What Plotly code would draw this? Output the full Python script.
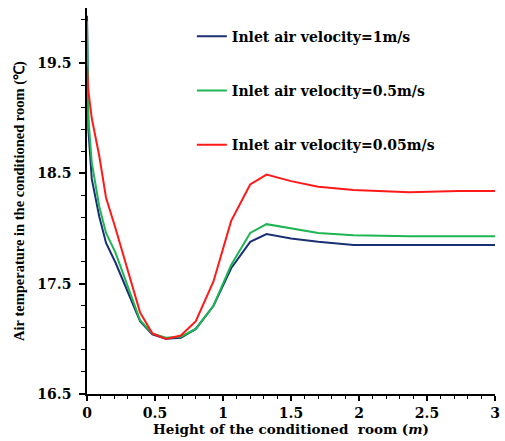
import plotly.graph_objects as go

height_m = [0, 0.01, 0.035, 0.09, 0.14, 0.21, 0.39, 0.48, 0.58, 0.69, 0.80, 0.93,
            1.06, 1.20, 1.32, 1.50, 1.70, 1.96, 2.37, 2.73, 3.0]
temp_v1 = [19.93, 18.90, 18.45, 18.11, 17.87, 17.69, 17.16, 17.04, 17.00, 17.01, 17.09, 17.30,
           17.64, 17.88, 17.95, 17.91, 17.88, 17.85, 17.85, 17.85, 17.85]
temp_v05 = [19.88, 19.00, 18.60, 18.20, 17.96, 17.78, 17.17, 17.05, 17.01, 17.02, 17.09, 17.30,
            17.67, 17.96, 18.04, 18.00, 17.96, 17.94, 17.93, 17.93, 17.93]
temp_v005 = [19.47, 19.25, 19.00, 18.66, 18.28, 18.00, 17.24, 17.05, 17.00, 17.03, 17.16, 17.52,
             18.07, 18.40, 18.49, 18.43, 18.38, 18.35, 18.33, 18.34, 18.34]

series_names = ["Inlet air velocity=1m/s", "Inlet air velocity=0.5m/s", "Inlet air velocity=0.05m/s"]
series_values = [temp_v1, temp_v05, temp_v005]
series_colors = ["#1b2f73", "#1eb553", "#ff1a1a"]

WIDE = "DejaVu Serif"
TIMES = "Liberation Serif"

fig = go.Figure()
for i, (name, vals, col) in enumerate(zip(series_names, series_values, series_colors)):
    fig.add_trace(go.Scatter(
        x=height_m, y=vals, mode="lines", name=name, legendgroup=f"g{i}",
        line=dict(color=col, width=2),
    ))

fig.update_layout(
    width=505, height=441,
    margin=dict(l=87, r=5, t=8, b=47),
    paper_bgcolor="white", plot_bgcolor="white",
    font=dict(family=WIDE, color="black", size=13, weight="bold"),
    showlegend=True,
    legend=dict(
        x=0.257, y=0.967, xanchor="left", yanchor="top",
        bgcolor="rgba(0,0,0,0)", borderwidth=0,
        font=dict(family=WIDE, size=14, weight="bold"),
        tracegroupgap=33, itemwidth=30,
    ),
    xaxis=dict(
        range=[0, 3], showgrid=False, zeroline=False,
        showline=True, linecolor="black", linewidth=1.5,
        ticks="outside", ticklen=5, tickwidth=1.5, tickcolor="black",
        tick0=0, dtick=0.5,
        minor=dict(ticks="outside", dtick=0.1, tick0=0, ticklen=3, tickcolor="black", tickwidth=1),
        tickfont=dict(family=WIDE, size=14, weight="bold"),
        title=dict(text="Height of the conditioned  room (<i>m</i>)",
                   font=dict(family=WIDE, size=13.5, weight="bold"), standoff=0),
    ),
    yaxis=dict(
        range=[16.5, 20.0], showgrid=False, zeroline=False,
        showline=True, linecolor="black", linewidth=1.5,
        ticks="outside", ticklen=6, tickwidth=1.5, tickcolor="black",
        tick0=16.5, dtick=1,
        minor=dict(ticks="outside", dtick=0.2, tick0=16.5, ticklen=4, tickcolor="black", tickwidth=1),
        tickfont=dict(family=WIDE, size=14, weight="bold"),
        ticklabelstandoff=5,
        title=dict(text="Air temperature in the conditioned room (℃)",
                   font=dict(family=TIMES, size=14.5, weight="bold"), standoff=9),
    ),
)

fig.write_html("out.html")
